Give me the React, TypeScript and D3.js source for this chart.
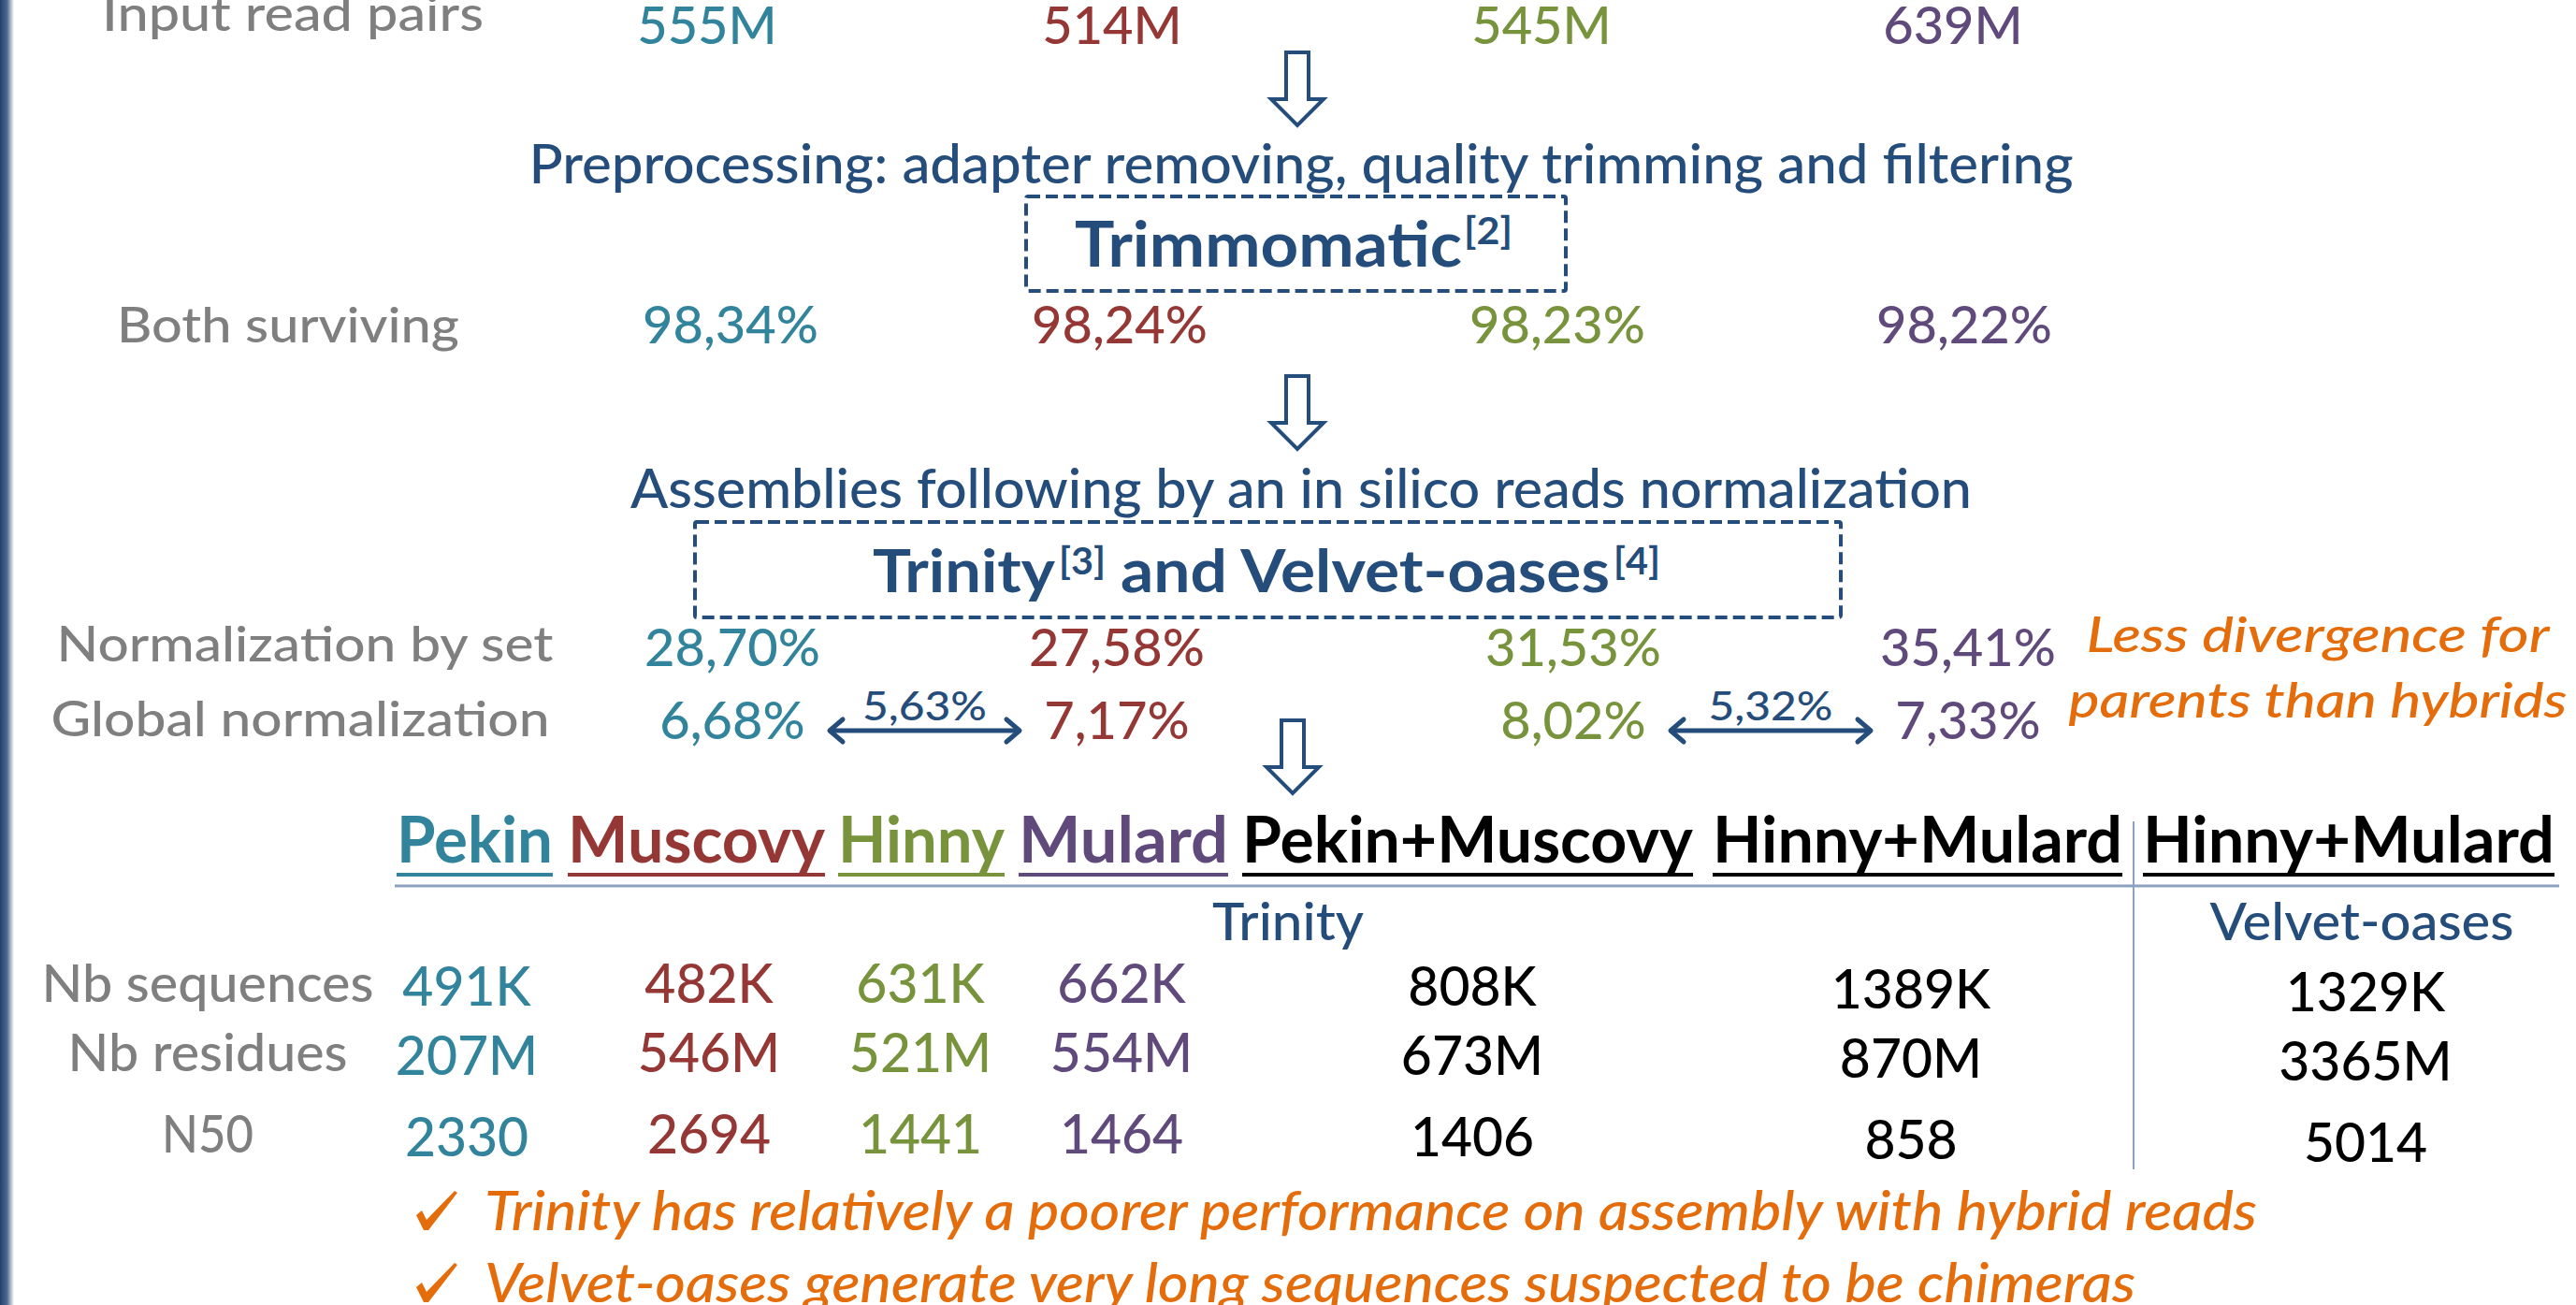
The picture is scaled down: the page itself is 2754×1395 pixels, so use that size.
import { useEffect, useRef } from 'react'
import * as d3 from 'd3'

const W = 2754
const H = 1395

const samples = ['Pekin', 'Muscovy', 'Hinny', 'Mulard']
const sampleColors = ['#31849b', '#953735', '#77933c', '#604a7b']

const stepLabels = ['Input read pairs', 'Both surviving', 'Normalization by set', 'Global normalization']
const inputReadPairs = ['555M', '514M', '545M', '639M']
const bothSurviving = ['98,34%', '98,24%', '98,23%', '98,22%']
const normBySet = ['28,70%', '27,58%', '31,53%', '35,41%']
const globalNorm = ['6,68%', '7,17%', '8,02%', '7,33%']
const gapPairs = [[0, 1], [2, 3]]
const gapLabels = ['5,63%', '5,32%']

const processSteps = [
  'Preprocessing: adapter removing, quality trimming and filtering',
  'Assemblies following by an in silico reads normalization'
]
const divergenceNote = ['Less divergence for', 'parents than hybrids']

const assemblies = ['Pekin', 'Muscovy', 'Hinny', 'Mulard', 'Pekin+Muscovy', 'Hinny+Mulard', 'Hinny+Mulard']
const assemblyColors = [...sampleColors, '#000000', '#000000', '#000000']
const assemblers = ['Trinity', 'Velvet-oases']
const metricLabels = ['Nb sequences', 'Nb residues', 'N50']
const nbSequences = ['491K', '482K', '631K', '662K', '808K', '1389K', '1329K']
const nbResidues = ['207M', '546M', '521M', '554M', '673M', '870M', '3365M']
const n50 = ['2330', '2694', '1441', '1464', '1406', '858', '5014']
const conclusions = [
  'Trinity has relatively a poorer performance on assembly with hybrid reads',
  'Velvet-oases generate very long sequences suspected to be chimeras'
]

const BLUE = '#254d7c'
const GRAY = '#7f7f7f'
const ORANGE = '#e46c0a'
const FONT = 'Lato, "Open Sans", sans-serif'

export default function App() {
  const ref = useRef(null)

  useEffect(() => {
    if (!ref.current) return
    d3.select(ref.current).selectAll('*').remove()

    const svg = d3.select(ref.current)
      .append('svg')
      .attr('width', W)
      .attr('height', H)
      .attr('viewBox', `0 0 ${W} ${H}`)
      .style('position', 'absolute')
      .style('left', 0)
      .style('top', 0)
      .style('font-family', FONT)

    svg.append('rect').attr('width', W).attr('height', H).attr('fill', '#fff')

    // slide edge on the left
    const grad = svg.append('defs').append('linearGradient').attr('id', 'edge')
    grad.append('stop').attr('offset', '0%').attr('stop-color', '#22406a')
    grad.append('stop').attr('offset', '50%').attr('stop-color', '#4d6890')
    grad.append('stop').attr('offset', '100%').attr('stop-color', '#ffffff')
    svg.append('rect').attr('x', 0).attr('y', 0).attr('width', 15).attr('height', H).attr('fill', 'url(#edge)')

    const txt = (o) => {
      const t = svg.append('text')
        .attr('x', o.x)
        .attr('y', o.y)
        .attr('text-anchor', o.anchor || 'middle')
        .style('font-size', `${o.size}px`)
        .style('fill', o.fill)
        .style('font-weight', o.weight || 500)
        .style('font-style', o.italic ? 'italic' : 'normal')
        .text(o.text)
      if (o.len) t.attr('textLength', o.len).attr('lengthAdjust', 'spacingAndGlyphs')
      return t
    }

    // ---- top flow: per-sample numbers
    const labelX = [313, 308, 326, 321]
    const labelW = [408, 366, 531, 533]
    const labelY = [33, 366, 707, 787]
    stepLabels.forEach((s, i) => txt({ x: labelX[i], y: labelY[i], text: s, size: 53, fill: GRAY, len: labelW[i] }))

    const xInput = d3.scaleOrdinal().domain(samples).range([756, 1189, 1648, 2088])
    const xSurv = d3.scaleOrdinal().domain(samples).range([781, 1197, 1665, 2100])
    const xNorm = d3.scaleOrdinal().domain(samples).range([783, 1194, 1682, 2104])

    const rows = [
      { vals: inputReadPairs, x: xInput, y: 47 },
      { vals: bothSurviving, x: xSurv, y: 367 },
      { vals: normBySet, x: xNorm, y: 712 },
      { vals: globalNorm, x: xNorm, y: 790 }
    ]
    rows.forEach(r => {
      r.vals.forEach((v, i) => txt({ x: r.x(samples[i]), y: r.y, text: v, size: 56, fill: sampleColors[i] }))
    })

    // double arrows between parents
    gapPairs.forEach(([a, b], i) => {
      const x1 = xNorm(samples[a]) + 104
      const x2 = xNorm(samples[b]) - 104
      const y = 781
      const g = svg.append('g')
        .style('stroke', BLUE)
        .style('stroke-width', 5)
        .style('fill', 'none')
        .style('stroke-linecap', 'round')
        .style('stroke-linejoin', 'round')
      g.append('line').attr('x1', x1 + 2).attr('x2', x2 - 2).attr('y1', y).attr('y2', y)
      g.append('polyline').attr('points', `${x1 + 14},${y - 12} ${x1},${y} ${x1 + 14},${y + 12}`)
      g.append('polyline').attr('points', `${x2 - 14},${y - 12} ${x2},${y} ${x2 - 14},${y + 12}`)
      txt({ x: (x1 + x2) / 2, y: 770, text: gapLabels[i], size: 43, fill: BLUE, len: 133 })
    })

    // hollow down arrows
    const downArrows = [[1387, 56], [1387, 402], [1382, 770]]
    downArrows.forEach(([cx, y0]) => {
      const L = 78, hw = 12, hh = 28, hl = 28
      svg.append('path')
        .attr('d', `M${cx - hw},${y0}L${cx + hw},${y0}L${cx + hw},${y0 + L - hl}L${cx + hh},${y0 + L - hl}L${cx},${y0 + L}L${cx - hh},${y0 + L - hl}L${cx - hw},${y0 + L - hl}Z`)
        .style('fill', '#fff')
        .style('stroke', BLUE)
        .style('stroke-width', 4)
        .style('stroke-linejoin', 'miter')
    })

    // process steps and tool boxes
    txt({ x: 1391, y: 196, text: processSteps[0], size: 57, fill: BLUE, len: 1651 })
    txt({ x: 1391, y: 543, text: processSteps[1], size: 57, fill: BLUE, len: 1434 })

    const boxes = [[1097, 210, 577, 101], [743, 558, 1225, 102]]
    boxes.forEach(([x, y, w, h]) => {
      svg.append('rect')
        .attr('x', x).attr('y', y).attr('width', w).attr('height', h)
        .attr('rx', 2)
        .style('fill', 'none')
        .style('stroke', BLUE)
        .style('stroke-width', 4)
        .style('stroke-dasharray', '13 6')
    })

    const toolRuns = [
      { text: 'Trimmomatic', x: 1149, y: 285, w: 414, size: 66 },
      { text: '[2]', x: 1565, y: 261, w: 52, size: 41 },
      { text: 'Trinity', x: 933, y: 633, w: 195, size: 64 },
      { text: '[3]', x: 1132, y: 614, w: 50, size: 41 },
      { text: 'and Velvet-oases', x: 1198, y: 633, w: 523, size: 64 },
      { text: '[4]', x: 1725, y: 614, w: 50, size: 41 }
    ]
    toolRuns.forEach(r => txt({ x: r.x, y: r.y, text: r.text, size: r.size, fill: BLUE, weight: 'bold', anchor: 'start', len: r.w }))

    divergenceNote.forEach((s, i) => txt({
      x: 2478, y: [697, 767][i], text: s, size: 53, fill: ORANGE, italic: true, len: [495, 533][i]
    }))

    // ---- results table
    const headX = [424, 607, 896, 1089, 1328, 1831, 2291]
    const headW = [167, 275, 178, 224, 482, 438, 440]
    assemblies.forEach((a, i) => {
      txt({ x: headX[i], y: 922, text: a, size: 69, fill: assemblyColors[i], weight: 'bold', anchor: 'start', len: headW[i] })
      svg.append('rect')
        .attr('x', headX[i])
        .attr('y', 933)
        .attr('width', headW[i])
        .attr('height', 4)
        .attr('fill', assemblyColors[i])
    })

    svg.append('line')
      .attr('x1', 422).attr('x2', 2736).attr('y1', 947).attr('y2', 947)
      .style('stroke', '#8da2c0').style('stroke-width', 3)
    svg.append('line')
      .attr('x1', 2281).attr('x2', 2281).attr('y1', 878).attr('y2', 1250)
      .style('stroke', '#8da2c0').style('stroke-width', 2)

    txt({ x: 1377, y: 1005, text: assemblers[0], size: 55, fill: BLUE, len: 162 })
    txt({ x: 2525, y: 1005, text: assemblers[1], size: 55, fill: BLUE, len: 325 })

    const metricW = [355, 299, 98]
    const yMetric = d3.scaleOrdinal().domain(metricLabels).range([1072, 1146, 1233])
    metricLabels.forEach((m, i) => txt({ x: 222, y: yMetric(m) - 1, text: m, size: 56, fill: GRAY, len: metricW[i] }))

    const xCol = d3.scaleOrdinal().domain(d3.range(assemblies.length)).range([499, 758, 984, 1199, 1574, 2043, 2529])
    const colDy = [3, 0, 0, 0, 3, 6, 9]
    const tableRows = [nbSequences, nbResidues, n50]
    tableRows.forEach((vals, r) => {
      vals.forEach((v, i) => txt({
        x: xCol(i), y: yMetric(metricLabels[r]) + colDy[i], text: v, size: 57, fill: assemblyColors[i]
      }))
    })

    // conclusions, each with a check mark
    const conclY = [1315, 1392]
    const conclW = [1895, 1765]
    const tick = d3.line()
    const tickShape = [[15, 41], [21, 36], [26, 46], [56, 15], [59, 17], [28, 57], [23, 57]]
    conclusions.forEach((c, i) => {
      const oy = conclY[i] - 57
      svg.append('path')
        .attr('d', tick(tickShape.map(([x, y]) => [430 + x, oy + y])) + 'Z')
        .style('fill', ORANGE)
      txt({ x: 518, y: conclY[i], text: c, size: 57, fill: ORANGE, italic: true, anchor: 'start', len: conclW[i] })
    })
  }, [])

  return <div ref={ref} />
}
